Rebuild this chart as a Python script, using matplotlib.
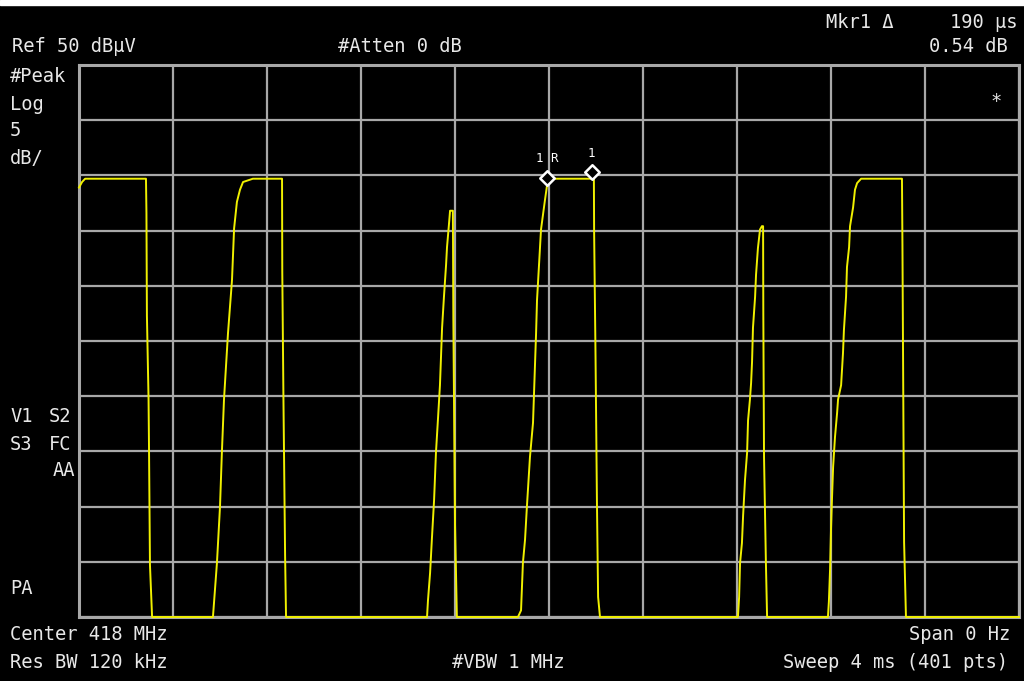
import numpy as np
import matplotlib
matplotlib.use("Agg")
import matplotlib.pyplot as plt

# trace: (time in ms, level in dB relative to 0 dBuV floor)
pulse1 = [(0.000, 38.9), (0.013, 39.4), (0.026, 39.7), (0.285, 39.7), (0.287, 36.6),
          (0.289, 27.3), (0.296, 19.7), (0.298, 15.1), (0.302, 4.7), (0.311, 0.0)]
pulse2 = [(0.570, 0.0), (0.587, 4.9), (0.600, 10.0), (0.608, 14.9), (0.617, 19.7),
          (0.634, 25.7), (0.651, 30.5), (0.660, 35.2), (0.672, 37.6), (0.685, 38.7),
          (0.698, 39.4), (0.740, 39.7), (0.864, 39.7), (0.865, 31.3), (0.870, 19.7),
          (0.877, 5.6), (0.881, 0.0)]
pulse3 = [(1.481, 0.0), (1.485, 1.5), (1.494, 4.0), (1.502, 7.2), (1.511, 10.6),
          (1.519, 14.9), (1.528, 18.1), (1.536, 21.0), (1.545, 26.2), (1.553, 29.0),
          (1.562, 31.9), (1.566, 33.5), (1.574, 35.5), (1.579, 36.8), (1.591, 36.8),
          (1.593, 26.9), (1.600, 8.5), (1.608, 0.0)]
pulse4 = [(1.868, 0.0), (1.881, 0.6), (1.889, 4.9), (1.898, 7.0), (1.906, 10.0),
          (1.919, 14.5), (1.932, 17.6), (1.940, 22.6), (1.945, 25.7), (1.949, 28.7),
          (1.957, 31.7), (1.966, 35.1), (1.983, 37.8), (1.991, 39.0), (1.995, 39.7),
          (2.191, 39.7), (2.192, 34.9), (2.198, 23.6), (2.204, 10.4), (2.209, 1.8),
          (2.217, 0.0)]
pulse5 = [(2.804, 0.0), (2.809, 1.8), (2.813, 4.9), (2.821, 6.7), (2.826, 9.2),
          (2.834, 12.4), (2.843, 14.9), (2.847, 17.8), (2.855, 19.7), (2.860, 21.2),
          (2.864, 23.1), (2.868, 26.2), (2.877, 29.0), (2.881, 31.0), (2.889, 33.4),
          (2.898, 35.1), (2.906, 35.4), (2.911, 35.4), (2.912, 27.4), (2.915, 14.5),
          (2.923, 4.9), (2.928, 0.0)]
pulse6 = [(3.187, 0.0), (3.191, 1.4), (3.196, 4.3), (3.200, 7.9), (3.204, 10.6),
          (3.209, 13.6), (3.217, 16.3), (3.226, 18.5), (3.230, 19.7), (3.243, 21.0),
          (3.251, 23.9), (3.255, 26.0), (3.264, 29.0), (3.268, 31.7), (3.277, 33.5),
          (3.281, 35.4), (3.294, 37.1), (3.302, 38.7), (3.311, 39.3), (3.328, 39.7),
          (3.502, 39.7), (3.504, 33.7), (3.511, 6.8), (3.519, 0.0), (4.000, 0.0)]

# delta markers
mkr_labels = ["1 R", "1"]
mkr_t = [1.991, 2.181]
mkr_db = [39.8, 40.3]

sweep_ms = 4.0
ref_db = 50
db_per_div = 5

pts = np.array(pulse1 + pulse2 + pulse3 + pulse4 + pulse5 + pulse6)

W, H = 1024, 681
fig = plt.figure(figsize=(W / 100, H / 100), dpi=100, facecolor="black")
ax = fig.add_axes([79 / W, 1 - 617 / H, 940 / W, 552 / H], facecolor="black")

grid_c = "#a8a8a8"
ax.set_xlim(0, sweep_ms)
ax.set_ylim(ref_db - 10 * db_per_div, ref_db)
ax.set_xticks(np.linspace(0, sweep_ms, 11))
ax.set_yticks(np.arange(0, ref_db + 1, db_per_div))
ax.grid(True, color=grid_c, lw=1.6)
ax.tick_params(length=0, labelbottom=False, labelleft=False)
for s in ax.spines.values():
    s.set_color(grid_c)
    s.set_linewidth(2.2)

ax.plot(pts[:, 0], pts[:, 1], color="#f0f000", lw=1.4, clip_on=False, zorder=5)
ax.scatter(mkr_t, mkr_db, marker="D", s=55, facecolor="black", edgecolor="white",
           lw=1.8, zorder=6, clip_on=False)
for lab, t, v in zip(mkr_labels, mkr_t, mkr_db):
    ax.annotate(lab, (t, v), xytext=(0, 11), textcoords="offset points", ha="center",
                color="white", fontsize=9, family="DejaVu Sans Mono")

# white strip on top of the screen
fig.patches.append(plt.Rectangle((0, 1 - 5 / H), 1, 5 / H, transform=fig.transFigure,
                                 color="white", zorder=10))

txt = dict(color="#e8e8e8", fontsize=13.5, family="DejaVu Sans Mono", va="center")


def put(x, y, s, ha="left", **kw):
    d = dict(txt)
    d.update(kw)
    fig.text(x / W, 1 - y / H, s, ha=ha, **d)


put(12, 47, "Ref 50 dBµV")
put(338, 47, "#Atten 0 dB")
put(826, 23, "Mkr1 Δ")
put(1018, 23, "190 µs", ha="right")
put(1008, 47, "0.54 dB", ha="right")
put(10, 77, "#Peak")
put(10, 104, "Log")
put(10, 131, "5")
put(10, 158, "dB/")
put(10, 416, "V1")
put(49, 416, "S2")
put(10, 444, "S3")
put(49, 444, "FC")
put(75, 471, "AA", ha="right")
put(10, 588, "PA")
put(996, 101, "*", ha="center")
put(10, 634, "Center 418 MHz")
put(10, 662, "Res BW 120 kHz")
put(452, 662, "#VBW 1 MHz")
put(1010, 634, "Span 0 Hz", ha="right")
put(1008, 662, "Sweep 4 ms (401 pts)", ha="right")

fig.savefig("out.png", dpi=100, facecolor="black")
